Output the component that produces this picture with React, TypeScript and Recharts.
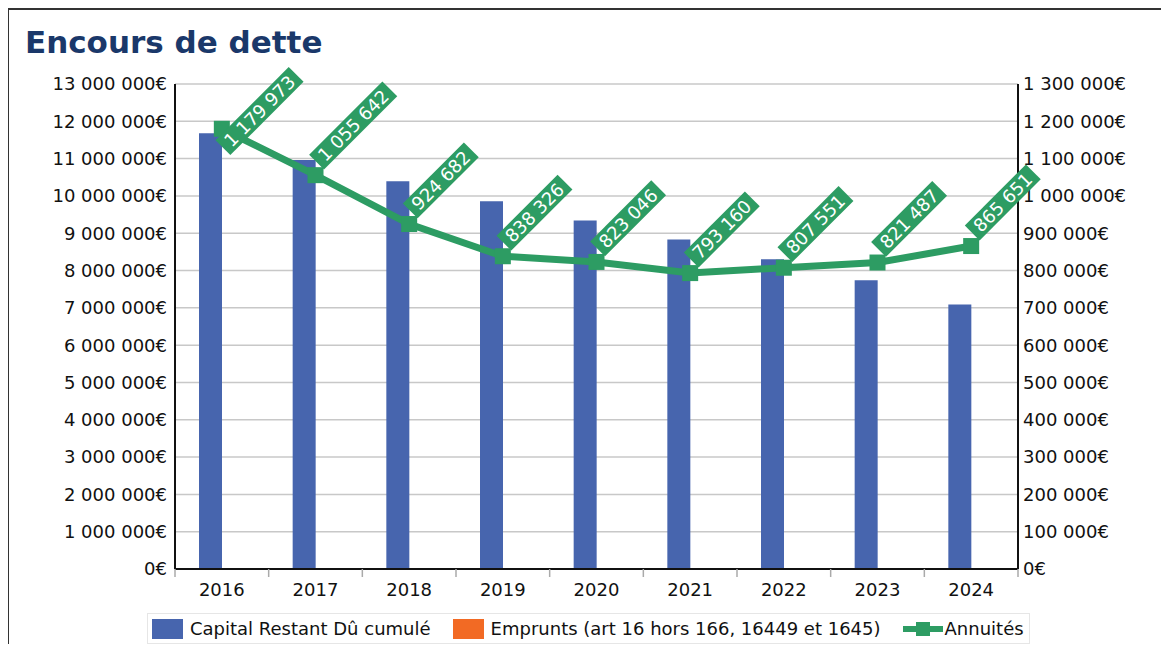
import {
  Bar,
  CartesianGrid,
  ComposedChart,
  LabelList,
  Legend,
  Line,
  XAxis,
  YAxis,
} from "recharts";

const FONT = "'DejaVu Sans', Verdana, sans-serif";
const BLUE = "#4765ae";
const ORANGE = "#f26a24";
const GREEN = "#2d9c63";
const NAVY = "#1a386a";

const YEARS = ["2016", "2017", "2018", "2019", "2020", "2021", "2022", "2023", "2024"];
const CAPITAL_RESTANT = [11680000, 10960000, 10390000, 9860000, 9340000, 8830000, 8300000, 7740000, 7090000];
const EMPRUNTS = [0, 0, 0, 0, 0, 0, 0, 0, 0];
const ANNUITES = [1179973, 1055642, 924682, 838326, 823046, 793160, 807551, 821487, 865651];

const LEFT_TICKS = [
  0, 1000000, 2000000, 3000000, 4000000, 5000000, 6000000, 7000000,
  8000000, 9000000, 10000000, 11000000, 12000000, 13000000,
];
const RIGHT_TICKS = [
  0, 100000, 200000, 300000, 400000, 500000, 600000, 700000,
  800000, 900000, 1000000, 1100000, 1200000, 1300000,
];

const SERIES_NAMES = {
  capital: "Capital Restant Dû cumulé",
  emprunts: "Emprunts (art 16 hors 166, 16449 et 1645)",
  annuites: "Annuités",
};

const data = YEARS.map((year, i) => ({
  year,
  capital: CAPITAL_RESTANT[i],
  emprunts: EMPRUNTS[i],
  annuites: ANNUITES[i],
}));

const spaced = (v: number) => String(Math.round(v)).replace(/\B(?=(\d{3})+(?!\d))/g, " ");
const euro = (v: number) => spaced(v) + "€";

const FONT_SIZE = 18;
const TICK_STYLE = { fill: "#111", fontSize: FONT_SIZE, fontFamily: FONT };

// square marker for the annuity line
function SquareDot(props: any) {
  const { cx, cy } = props;
  if (cx == null || cy == null) return null;
  return <rect x={cx - 8} y={cy - 8} width={16} height={16} fill={GREEN} />;
}

// rotated green tag holding the annuity value
const LABEL_TOP_LIMIT = 59;
function AnnuiteLabel(props: any) {
  const { x, y, value } = props;
  if (x == null || y == null) return null;
  const text = spaced(Number(value));
  const digits = text.replace(/ /g, "").length;
  const spaces = text.length - digits;
  const w = (digits * 0.636 + spaces * 0.318) * FONT_SIZE + 12;
  const x0 = 10;
  const vc = -8.5;
  const h = 21;
  // keep the tag inside the chart area
  const top = y + (-(x0 + w) + (vc - h / 2)) / Math.SQRT2;
  const shift = top < LABEL_TOP_LIMIT ? LABEL_TOP_LIMIT - top : 0;
  return (
    <g transform={`translate(${x},${y + shift}) rotate(-45)`}>
      <rect x={x0} y={vc - h / 2} width={w} height={h} fill={GREEN} />
      <text
        x={x0 + w / 2}
        y={vc}
        textAnchor="middle"
        dominantBaseline="central"
        fill="#fff"
        fontSize={FONT_SIZE}
        fontFamily={FONT}
      >
        {text}
      </text>
    </g>
  );
}

// year label plus gray boundary ticks between categories
function YearTick(props: any) {
  const { x, y, payload, index, visibleTicksCount } = props;
  const half = payload?.offset ?? 46.8;
  const last = index === visibleTicksCount - 1;
  return (
    <g>
      <line x1={x - half} x2={x - half} y1={y} y2={y + 8} stroke="#aaa" strokeWidth={1.5} />
      {last && <line x1={x + half} x2={x + half} y1={y} y2={y + 8} stroke="#aaa" strokeWidth={1.5} />}
      <text x={x} y={y + 20} textAnchor="middle" dominantBaseline="central" {...TICK_STYLE}>
        {payload.value}
      </text>
    </g>
  );
}

function LegendContent() {
  const item = { display: "flex", alignItems: "center", marginRight: 22 } as const;
  const swatch = (color: string) => (
    <span style={{ width: 31, height: 20, background: color, marginRight: 7, display: "inline-block" }} />
  );
  return (
    <div
      style={{
        display: "flex",
        alignItems: "center",
        height: 31,
        border: "1px solid #e6e6e6",
        boxSizing: "border-box",
        paddingLeft: 4,
        fontSize: FONT_SIZE,
        fontFamily: FONT,
        color: "#111",
        whiteSpace: "nowrap",
      }}
    >
      <span style={item}>
        {swatch(BLUE)}
        {SERIES_NAMES.capital}
      </span>
      <span style={item}>
        {swatch(ORANGE)}
        {SERIES_NAMES.emprunts}
      </span>
      <span style={{ display: "flex", alignItems: "center" }}>
        <svg width={40} height={20} style={{ marginRight: 2 }}>
          <line x1={0} x2={40} y1={10} y2={10} stroke={GREEN} strokeWidth={6} />
          <rect x={13} y={3} width={14} height={14} fill={GREEN} />
        </svg>
        {SERIES_NAMES.annuites}
      </span>
    </div>
  );
}

export default function App() {
  return (
    <div
      style={{
        position: "relative",
        width: 1162,
        height: 636,
        marginLeft: -1,
        overflow: "hidden",
        background: "#fff",
      }}
    >
      <div
        style={{
          position: "absolute",
          left: 0,
          top: 0,
          width: 1300,
          height: 800,
          borderTop: "2px solid #333",
          borderLeft: "2px solid #333",
        }}
      />
      <div
        style={{
          position: "absolute",
          left: 18,
          top: 19,
          fontFamily: FONT,
          fontWeight: "bold",
          fontSize: 31,
          lineHeight: 1,
          color: NAVY,
        }}
      >
        Encours de dette
      </div>
      <div style={{ position: "absolute", left: 0, top: 0 }}>
        <ComposedChart
          width={1162}
          height={636}
          data={data}
          margin={{ top: 76, right: 0, bottom: 45, left: 0 }}
          barGap={0}
        >
          <CartesianGrid vertical={false} stroke="#c8c8c8" strokeWidth={1.5} yAxisId="left" />
          <XAxis
            dataKey="year"
            height={30}
            tickSize={0}
            tickMargin={0}
            tickLine={false}
            axisLine={{ stroke: "#111", strokeWidth: 2 }}
            tick={<YearTick />}
            interval={0}
          />
          <YAxis
            yAxisId="left"
            width={168}
            domain={[0, 13000000]}
            ticks={LEFT_TICKS}
            tickFormatter={euro}
            tick={TICK_STYLE}
            tickLine={false}
            tickSize={6}
            tickMargin={2}
            axisLine={{ stroke: "#111", strokeWidth: 2 }}
            interval={0}
          />
          <YAxis
            yAxisId="right"
            orientation="right"
            width={151}
            domain={[0, 1300000]}
            ticks={RIGHT_TICKS}
            tickFormatter={euro}
            tick={TICK_STYLE}
            tickLine={false}
            tickSize={4}
            tickMargin={1}
            axisLine={{ stroke: "#111", strokeWidth: 2 }}
            interval={0}
          />
          <Bar
            yAxisId="left"
            dataKey="capital"
            name={SERIES_NAMES.capital}
            fill={BLUE}
            barSize={23}
            isAnimationActive={false}
          />
          <Bar
            yAxisId="left"
            dataKey="emprunts"
            name={SERIES_NAMES.emprunts}
            fill={ORANGE}
            barSize={23}
            isAnimationActive={false}
          />
          <Line
            yAxisId="right"
            dataKey="annuites"
            name={SERIES_NAMES.annuites}
            stroke={GREEN}
            strokeWidth={7}
            type="linear"
            dot={<SquareDot />}
            activeDot={false}
            isAnimationActive={false}
          >
            <LabelList dataKey="annuites" content={<AnnuiteLabel />} />
          </Line>
          <Legend
            verticalAlign="middle"
            content={() => <LegendContent />}
            wrapperStyle={{ top: 605, left: 140, width: 883, height: 31 }}
          />
        </ComposedChart>
      </div>
    </div>
  );
}
